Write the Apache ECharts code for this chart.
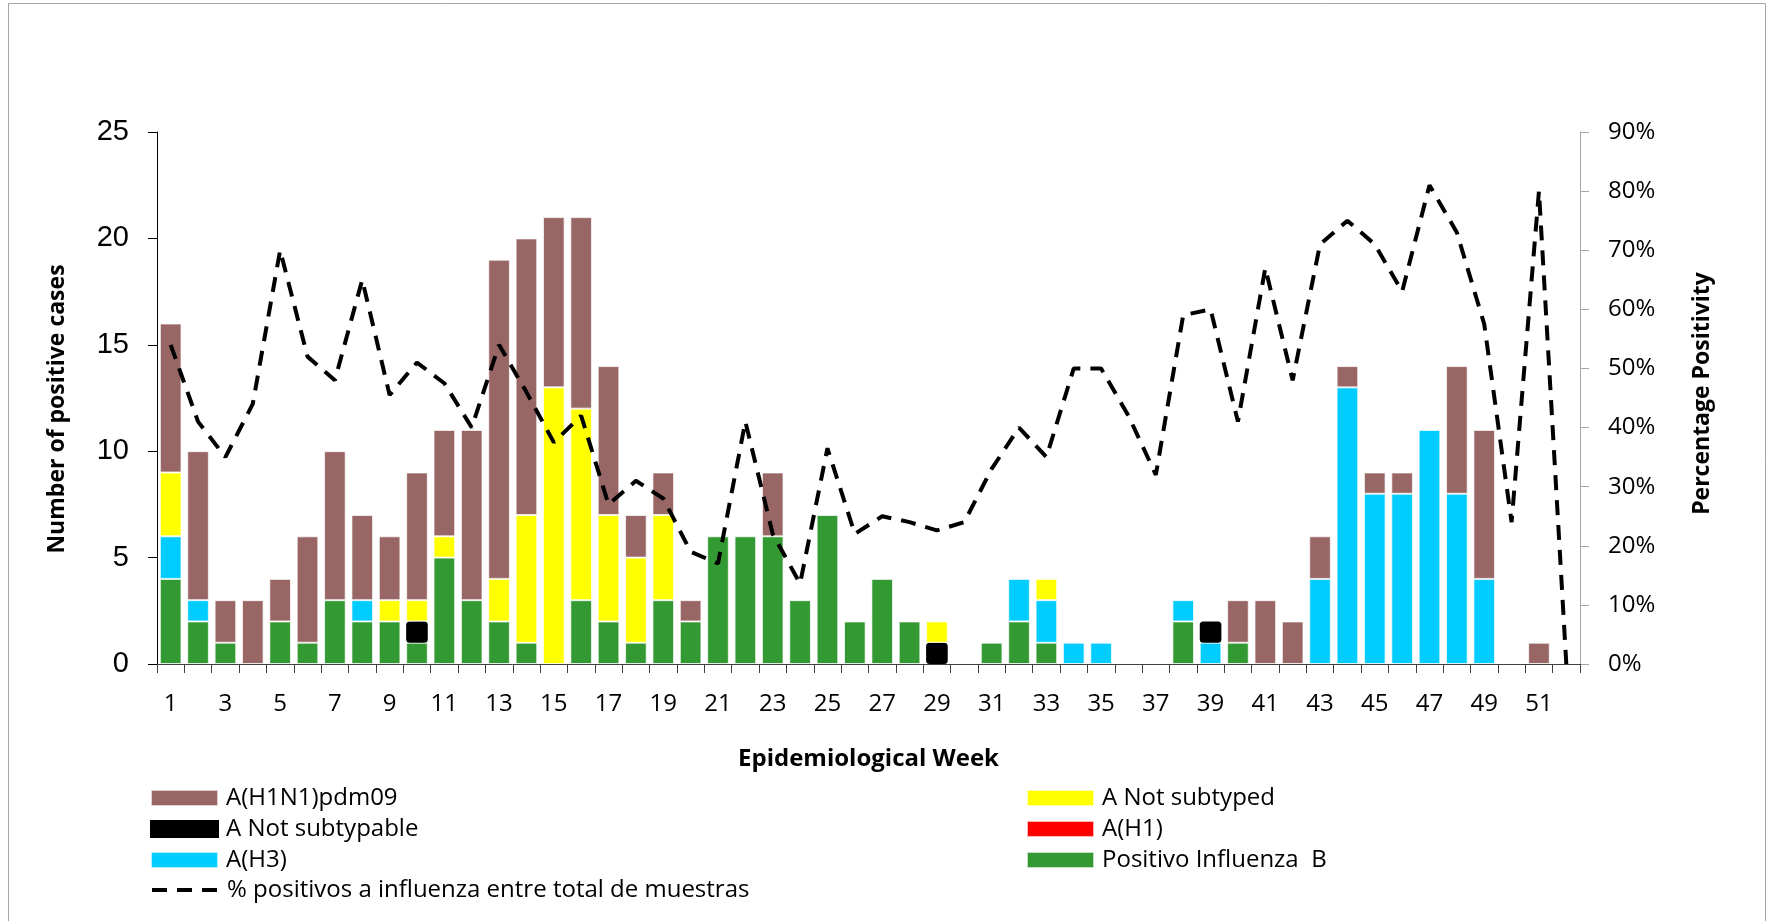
<!DOCTYPE html>
<html>
<head>
<meta charset="utf-8">
<script src="https://cdn.jsdelivr.net/npm/echarts@6/dist/echarts.min.js"></script>
<style>
html,body{margin:0;padding:0;background:#fff;}
#chart{width:1767px;height:921px;}
</style>
</head>
<body>
<div id="chart"></div>
<script>
// Epidemiological weeks
var weeks = [];
for (var w = 1; w <= 52; w++) weeks.push(String(w));

// Stacked counts per week (bottom to top)
var fluB      = [4,2,1,0,2,1,3,2,2,1,5,3,2,1,0,3,2,1,3,2,6,6,6,3,7,2,4,2,0,0,1,2,1,0,0,0,0,2,0,1,0,0,0,0,0,0,0,0,0,0,0,0];
var aH3       = [2,1,0,0,0,0,0,1,0,0,0,0,0,0,0,0,0,0,0,0,0,0,0,0,0,0,0,0,0,0,0,2,2,1,1,0,0,1,1,0,0,0,4,13,8,8,11,8,4,0,0,0];
var aH1       = [0,0,0,0,0,0,0,0,0,0,0,0,0,0,0,0,0,0,0,0,0,0,0,0,0,0,0,0,0,0,0,0,0,0,0,0,0,0,0,0,0,0,0,0,0,0,0,0,0,0,0,0];
var aNotTypable = [0,0,0,0,0,0,0,0,0,1,0,0,0,0,0,0,0,0,0,0,0,0,0,0,0,0,0,0,1,0,0,0,0,0,0,0,0,0,1,0,0,0,0,0,0,0,0,0,0,0,0,0];
var aNotTyped = [3,0,0,0,0,0,0,0,1,1,1,0,2,6,13,9,5,4,4,0,0,0,0,0,0,0,0,0,1,0,0,0,1,0,0,0,0,0,0,0,0,0,0,0,0,0,0,0,0,0,0,0];
var aH1N1pdm  = [7,7,2,3,2,5,7,4,3,6,5,8,15,13,8,9,7,2,2,1,0,0,3,0,0,0,0,0,0,0,0,0,0,0,0,0,0,0,0,2,3,2,2,1,1,1,0,6,7,0,1,0];

// % positive among all samples
var pctPositive = [54,41,35,44,70,52,48,65,45.5,51,47.5,40,54,46,37.5,42,27,31,28,19,17,41,22,13.6,36.5,22,25,24,22.6,24,33,40,35,50,50,42,32,59,60,41,67,48,71,75,71,63,81,73,57.5,24,80,0];

var leftTicks = [0,5,10,15,20,25];
var rightTicks = [0,10,20,30,40,50,60,70,80,90];

var LINE_NAME = '% positivos a influenza entre total de muestras';

function nz(arr){ return arr.map(function(v){ return v === 0 ? null : v; }); }

var chart = echarts.init(document.getElementById('chart'));
var barBorder = {borderColor:'rgba(255,255,255,0.7)', borderWidth:1};
function barSeries(name, data, color, extra){
  return {
    name: name, type: 'bar', stack: 'cases', data: nz(data),
    barCategoryGap: '21%',
    itemStyle: Object.assign({color: color}, barBorder, extra || {}),
    emphasis: {disabled: true}
  };
}
var legendText = {fontFamily: 'Open Sans', fontSize: 24, color: '#000', padding: [0,0,0,3]};
function legendBox(left, top, names, icon){
  var l = {
    orient: 'vertical', left: left, top: top, padding: 0,
    itemWidth: 67, itemHeight: 16, itemGap: 7,
    textStyle: legendText, data: names, selectedMode: false
  };
  if (icon) l.icon = icon;
  return l;
}
var lineLegend = legendBox(150, 878, [LINE_NAME], null);
lineLegend.itemStyle = {opacity: 0};
lineLegend.lineStyle = {color: '#000', width: 4, type: [15, 10], cap: 'butt'};

var option = {
  animation: false,
  backgroundColor: '#fff',
  graphic: [{
    type: 'rect', shape: {x: 8.5, y: 3.5, width: 1757, height: 940},
    style: {fill: 'none', stroke: '#a6a6a6', lineWidth: 1}, silent: true, z: -10
  }],
  grid: {left: 157, right: 187, top: 132, bottom: 257, containLabel: false},
  legend: [
    legendBox(150, 786, ['A(H1N1)pdm09', 'A Not subtypable', 'A(H3)'], 'rect'),
    legendBox(1026, 786, ['A Not subtyped', 'A(H1)', 'Positivo Influenza  B'], 'rect'),
    lineLegend
  ],
  xAxis: {
    type: 'category', data: weeks,
    name: 'Epidemiological Week', nameLocation: 'middle', nameGap: 83,
    nameTextStyle: {fontFamily: 'Open Sans', fontWeight: 'bold', fontSize: 24, color: '#000'},
    axisLine: {lineStyle: {color: '#404040', width: 1}},
    axisTick: {show: true, interval: 0, length: 9, lineStyle: {color: '#404040'}},
    axisLabel: {interval: 1, margin: 28, fontFamily: 'Open Sans', fontSize: 24, color: '#000'}
  },
  yAxis: [{
    type: 'value', min: 0, max: 25, interval: 5,
    name: 'Number of positive cases', nameLocation: 'middle', nameGap: 88, nameRotate: 90,
    nameTextStyle: {fontFamily: 'Open Sans', fontWeight: 'bold', fontSize: 23, color: '#000', padding: [0,22,0,0]},
    axisLine: {show: true, lineStyle: {color: '#000', width: 1}},
    axisTick: {show: true, length: 9, lineStyle: {color: '#000'}},
    axisLabel: {margin: 28, fontFamily: 'Liberation Sans', fontSize: 29, color: '#000',
      formatter: function(v){ return leftTicks.indexOf(v) >= 0 ? String(v) : ''; }},
    splitLine: {show: false}
  },{
    type: 'value', min: 0, max: 90, interval: 10, position: 'right',
    name: 'Percentage Positivity', nameLocation: 'middle', nameGap: 111, nameRotate: 90,
    nameTextStyle: {fontFamily: 'Open Sans', fontWeight: 'bold', fontSize: 23, color: '#000', padding: [0,0,0,9]},
    axisLine: {show: true, lineStyle: {color: '#a6a6a6', width: 1}},
    axisTick: {show: true, length: 9, lineStyle: {color: '#a6a6a6'}},
    axisLabel: {margin: 28, fontFamily: 'Open Sans', fontSize: 24, color: '#000',
      formatter: function(v){ return rightTicks.indexOf(v) >= 0 ? v + '%' : ''; }},
    splitLine: {show: false}
  }],
  series: [
    barSeries('Positivo Influenza  B', fluB, '#339933'),
    barSeries('A(H3)', aH3, '#00CCFF'),
    barSeries('A(H1)', aH1, '#FF0000'),
    barSeries('A Not subtypable', aNotTypable, '#000000', {borderColor: '#000', borderWidth: 3, borderRadius: 2}),
    barSeries('A Not subtyped', aNotTyped, '#FFFF00'),
    barSeries('A(H1N1)pdm09', aH1N1pdm, '#996666'),
    {
      name: LINE_NAME, type: 'line', yAxisIndex: 1,
      data: pctPositive, symbol: 'none', z: 10,
      itemStyle: {color: '#000'},
      lineStyle: {color: '#000', width: 4, type: [15, 10], cap: 'butt'},
      emphasis: {disabled: true}
    }
  ]
};
chart.setOption(option);
</script>
</body>
</html>
